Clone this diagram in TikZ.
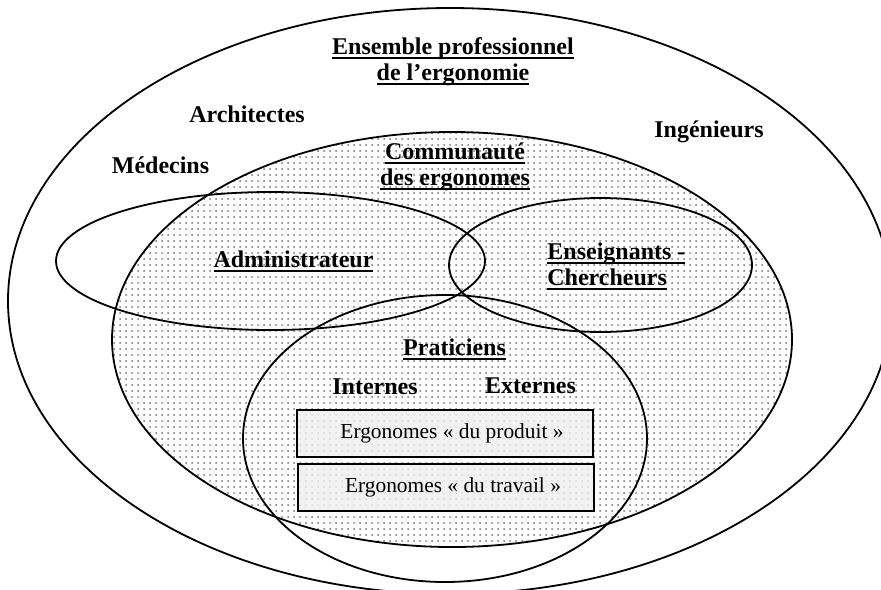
\documentclass[tikz,border=0pt]{standalone}
\usepackage{fontspec}
\setmainfont{Liberation Serif}
\usetikzlibrary{patterns}

% souligne un mot comme dans le traitement de texte
\newcommand{\souligne}[1]{\setbox0=\hbox{#1}\rlap{\rule[-2.6pt]{\wd0}{1pt}}\box0}

\tikzset{
  cercle/.style={draw, line width=0.9pt},
  titre/.style={font=\bfseries\fontsize{12}{13}\selectfont, align=center, anchor=base, inner sep=0pt},
  metier/.style={font=\bfseries\fontsize{12}{13}\selectfont, anchor=base, inner sep=0pt},
  boite/.style={
    draw, line width=0.9pt,
    preaction={fill=black!5},
    pattern=dots, pattern color=black!14,
    minimum width=148pt, minimum height=23.5pt,
    font=\fontsize{10.7}{12}\selectfont
  }
}

\begin{document}
\begin{tikzpicture}[x=0.5pt, y=-0.5pt]
  \useasboundingbox (0,0) rectangle (881,589);

  % ensemble professionnel
  \draw[cercle] (450,301) ellipse [x radius=221pt, y radius=146.5pt];
  % communaute des ergonomes
  \draw[cercle, pattern=dots, pattern color=black!55] (452,339.5) ellipse [x radius=170pt, y radius=103.75pt];
  % administrateur, enseignants, praticiens
  \draw[cercle] (270.5,261) ellipse [x radius=107.25pt, y radius=34.5pt];
  \draw[cercle] (600.5,265) ellipse [x radius=75.75pt, y radius=33.5pt];
  \draw[cercle] (445,438.5) ellipse [x radius=101pt, y radius=71.75pt];

  % base = ligne du bas pour les titres sur deux lignes
  \node[titre] (ensemble) at (453,80) {\souligne{Ensemble professionnel}\\\souligne{de l’ergonomie}};
  \node[metier] (architectes) at (247,122) {Architectes};
  \node[metier] (medecins) at (160.5,173) {Médecins};
  \node[metier] (ingenieurs) at (709,137) {Ingénieurs};
  \node[titre] (communaute) at (455,185) {\souligne{Communauté}\\\souligne{des ergonomes}};
  \node[metier] (admin) at (293.5,267) {\souligne{Administrateur}};
  \node[titre, align=left, anchor=base west] (enseignants) at (547,285) {\souligne{Enseignants -}\\\souligne{Chercheurs}};
  \node[metier] (praticiens) at (454.5,355) {\souligne{Praticiens}};
  \node[metier] (internes) at (375,394) {Internes};
  \node[metier] (externes) at (530.5,393) {Externes};

  \node[boite] (produit) at (445,433.5) {\hspace*{7pt}Ergonomes « du produit »};
  \node[boite] (travail) at (446,487.5) {\hspace*{7pt}Ergonomes « du travail »};
\end{tikzpicture}
\end{document}
